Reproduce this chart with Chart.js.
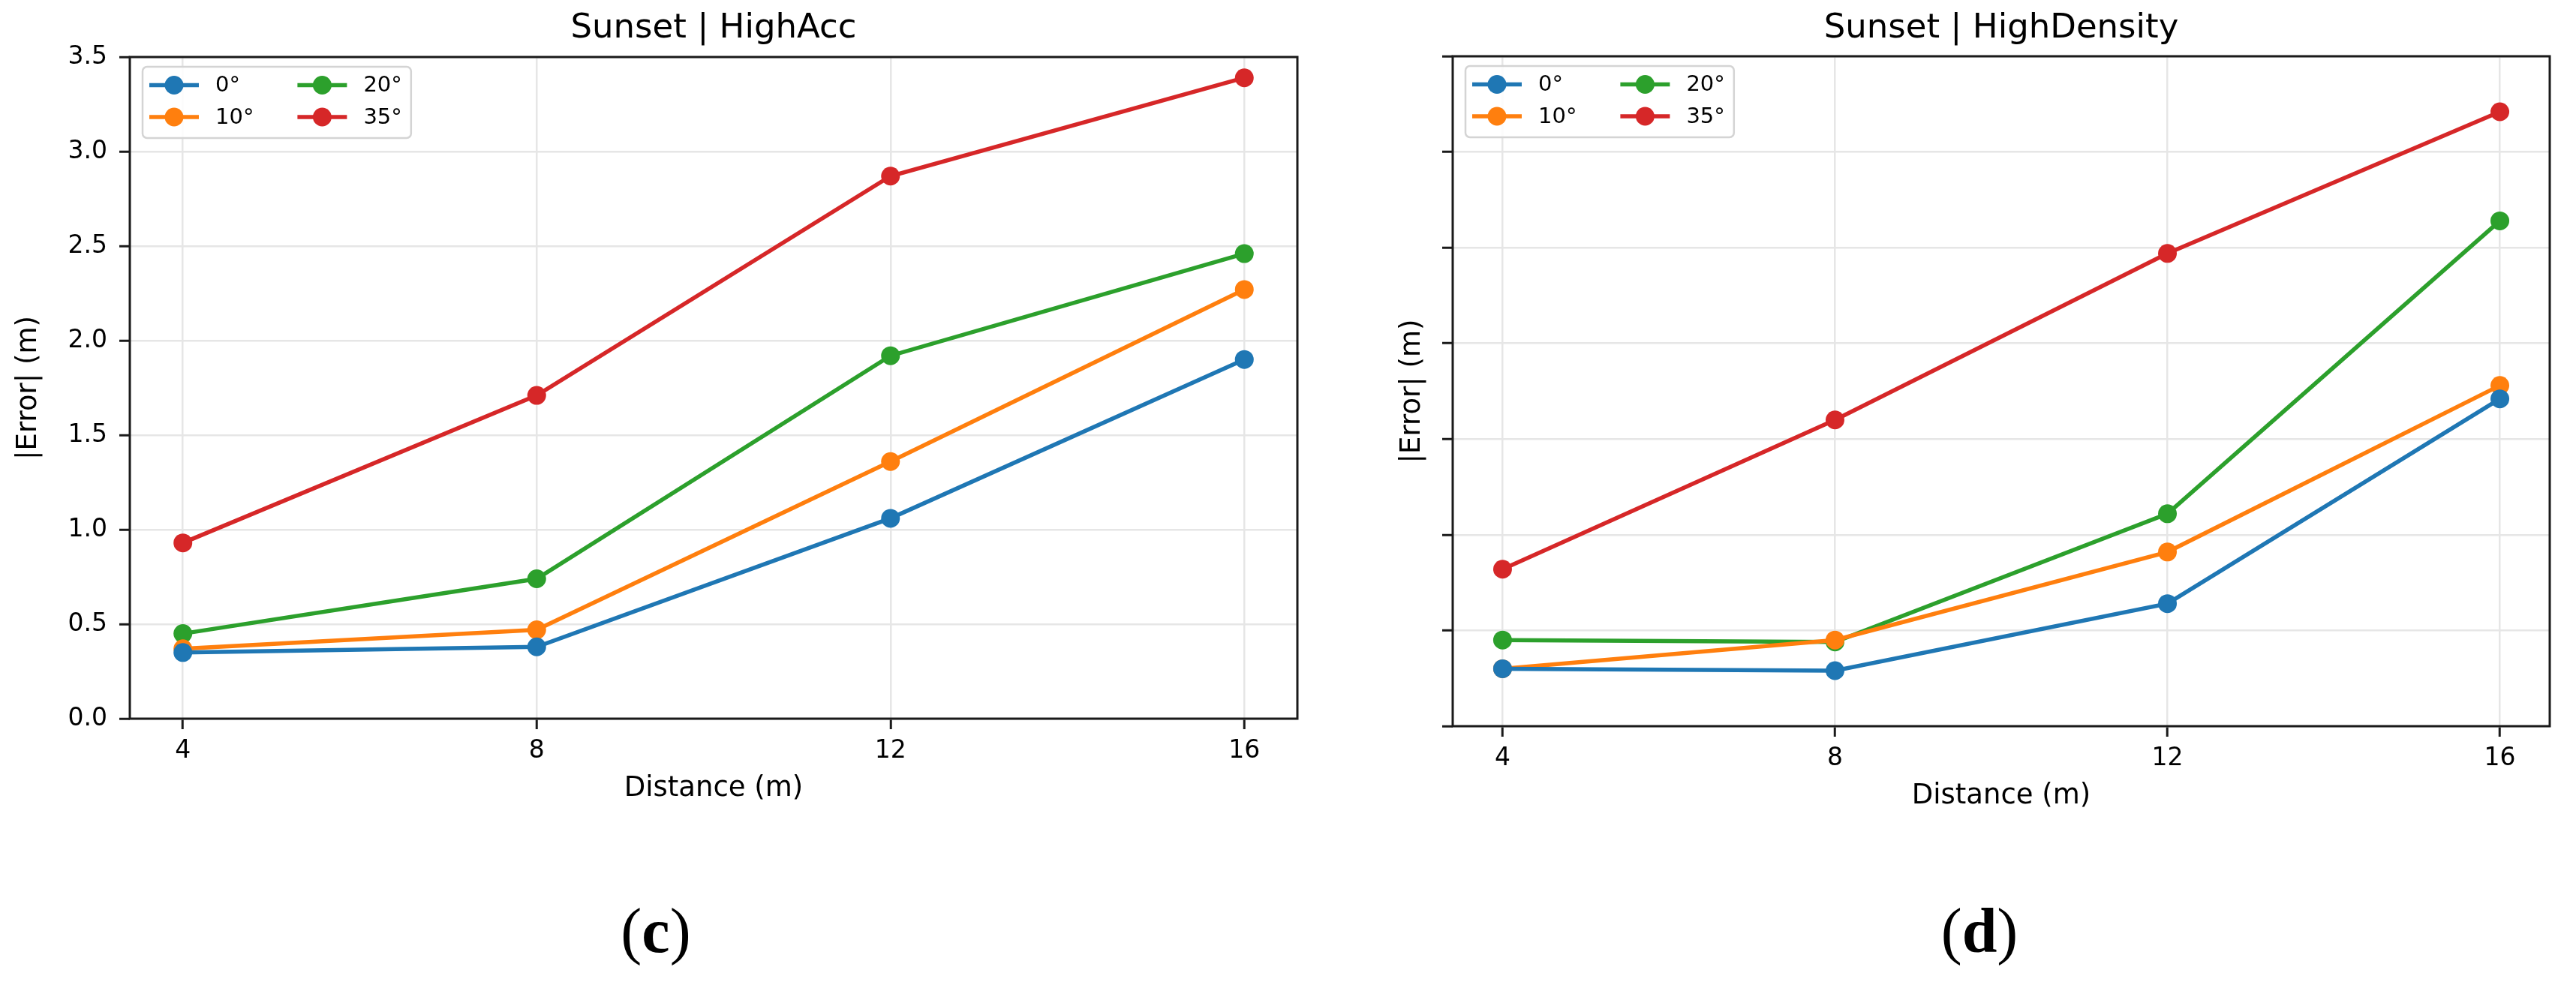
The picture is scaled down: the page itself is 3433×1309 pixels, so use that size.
<!DOCTYPE html>
<html>
<head>
<meta charset="utf-8">
<script src="https://cdn.jsdelivr.net/npm/chart.js@4.4.1/dist/chart.umd.min.js"></script>
<style>
  html, body { margin: 0; padding: 0; background: #fff; }
  body { position: relative; width: 3433px; height: 1309px; overflow: hidden; }
  canvas { position: absolute; top: 0; }
  #accChart { left: 0; }
  #denChart { left: 1760px; }
  .panel-tag {
    position: absolute; top: 1199px; width: 200px; text-align: center;
    font-family: 'Liberation Serif', 'DejaVu Serif', serif; font-size: 84px; line-height: 1; color: #000;
  }
</style>
</head>
<body>
<canvas id="accChart" width="1760" height="1078"></canvas>
<canvas id="denChart" width="1673" height="1088"></canvas>
<div class="panel-tag" style="left: 774px;">(<b>c</b>)</div>
<div class="panel-tag" style="left: 2538px;">(<b>d</b>)</div>
<script>
// Distance steps on the x axis
const distances = [4, 8, 12, 16];
const distanceTicks = ['4', '8', '12', '16'];
const angleLabels = ['0°', '10°', '20°', '35°'];
const yTicks = [0, 0.5, 1.0, 1.5, 2.0, 2.5, 3.0, 3.5];

// |Error| (m), Sunset | HighAcc
const accErr0 = [0.35, 0.38, 1.06, 1.90];
const accErr10 = [0.37, 0.47, 1.36, 2.27];
const accErr20 = [0.45, 0.74, 1.92, 2.46];
const accErr35 = [0.93, 1.71, 2.87, 3.39];

// |Error| (m), Sunset | HighDensity
const denErr0 = [0.30, 0.29, 0.64, 1.71];
const denErr10 = [0.30, 0.45, 0.91, 1.78];
const denErr20 = [0.45, 0.44, 1.11, 2.64];
const denErr35 = [0.82, 1.60, 2.47, 3.21];

const lineColors = ['#1f77b4', '#ff7f0e', '#2ca02c', '#d62728'];

Chart.defaults.font.family = "'DejaVu Sans', sans-serif";
Chart.defaults.color = '#000';

// Frame around the plot area plus a matplotlib-like two column legend
const frameLegend = {
    id: 'frameLegend',
    afterDraw(chart) {
        const { ctx, chartArea: a } = chart;
        ctx.save();
        ctx.strokeStyle = '#1a1a1a';
        ctx.lineWidth = 3;
        ctx.strokeRect(a.left, a.top, a.right - a.left, a.bottom - a.top);

        // legend box
        const sets = chart.data.datasets;
        ctx.font = "29px 'DejaVu Sans', sans-serif";
        const bx = a.left + 17, by = a.top + 13;
        const handle = 66, gap = 22, colSpace = 58, pad = 9;
        const col1Text = Math.max(ctx.measureText(sets[0].label).width, ctx.measureText(sets[1].label).width);
        const col2Text = Math.max(ctx.measureText(sets[2].label).width, ctx.measureText(sets[3].label).width);
        const col2x = bx + pad + handle + gap + col1Text + colSpace;
        const bw = col2x - bx + handle + gap + col2Text + 12;
        const bh = 95;
        ctx.beginPath();
        ctx.roundRect(bx, by, bw, bh, 6);
        ctx.fillStyle = 'rgba(255,255,255,0.85)';
        ctx.fill();
        ctx.strokeStyle = '#d4d4d4';
        ctx.lineWidth = 2.5;
        ctx.stroke();

        const rows = [by + 24.5, by + 67];
        const cols = [bx + pad, col2x];
        // column-major order like matplotlib ncol=2
        sets.forEach((ds, i) => {
            const x = cols[Math.floor(i / 2)];
            const y = rows[i % 2];
            ctx.strokeStyle = ds.borderColor;
            ctx.lineWidth = 5.5;
            ctx.beginPath();
            ctx.moveTo(x, y);
            ctx.lineTo(x + handle, y);
            ctx.stroke();
            ctx.fillStyle = ds.borderColor;
            ctx.beginPath();
            ctx.arc(x + handle / 2, y, 12.5, 0, Math.PI * 2);
            ctx.fill();
            ctx.fillStyle = '#000';
            ctx.textBaseline = 'middle';
            ctx.textAlign = 'left';
            ctx.fillText(ds.label, x + handle + gap, y + 1);
        });
        ctx.restore();
    }
};

function makeDatasets(seriesList) {
    return seriesList.map((vals, i) => ({
        label: angleLabels[i],
        data: distances.map((d, k) => ({ x: d, y: vals[k] })),
        borderColor: lineColors[i],
        backgroundColor: lineColors[i],
        pointBackgroundColor: lineColors[i],
        pointBorderWidth: 0,
        pointRadius: 12.5,
        borderWidth: 5.5,
        tension: 0
    }));
}

function buildChart(canvasId, title, seriesList, dims) {
    const canvas = document.getElementById(canvasId);
    return new Chart(canvas.getContext('2d'), {
        type: 'line',
        data: { datasets: makeDatasets(seriesList) },
        options: {
            responsive: false,
            animation: false,
            devicePixelRatio: 1,
            events: [],
            layout: { padding: { left: 0, top: 0, right: dims.padRight, bottom: 0 } },
            plugins: {
                legend: { display: false },
                tooltip: { enabled: false },
                title: {
                    display: true,
                    text: title,
                    fullSize: false,
                    font: { size: 45, weight: 'normal', lineHeight: 1 },
                    padding: { top: 16, bottom: dims.titleBottom }
                }
            },
            scales: {
                x: {
                    type: 'linear',
                    min: 3.4,
                    max: 16.6,
                    afterBuildTicks: (scale) => {
                        scale.ticks = distances.map(v => ({ value: v }));
                    },
                    afterFit: (scale) => { scale.height = 120; },
                    ticks: {
                        font: { size: 33 },
                        padding: 10,
                        maxRotation: 0,
                        callback: (v) => distanceTicks[distances.indexOf(v)]
                    },
                    grid: { color: '#e6e6e6', lineWidth: 2.5, tickColor: '#1a1a1a', tickLength: 14, tickWidth: 3 },
                    border: { display: false },
                    title: { display: true, text: 'Distance (m)', font: { size: 37 }, padding: { top: 0, bottom: 4 } }
                },
                y: {
                    min: 0,
                    max: 3.5,
                    afterBuildTicks: (scale) => {
                        scale.ticks = yTicks.map(v => ({ value: v }));
                    },
                    afterFit: (scale) => { scale.width = dims.yWidth; },
                    ticks: {
                        display: dims.showYLabels,
                        font: { size: 33 },
                        padding: 16,
                        callback: (v) => v.toFixed(1)
                    },
                    grid: { color: '#e6e6e6', lineWidth: 2.5, tickColor: '#1a1a1a', tickLength: 14, tickWidth: 3 },
                    border: { display: false },
                    title: { display: true, text: '|Error| (m)', font: { size: 37 }, padding: { top: dims.yTitlePad, bottom: 0 } }
                }
            }
        },
        plugins: [frameLegend]
    });
}

buildChart('accChart', 'Sunset | HighAcc', [accErr0, accErr10, accErr20, accErr35],
    { padRight: 31, titleBottom: 15, yWidth: 173, showYLabels: true, yTitlePad: 16 });
buildChart('denChart', 'Sunset | HighDensity', [denErr0, denErr10, denErr20, denErr35],
    { padRight: 35, titleBottom: 14, yWidth: 176, showYLabels: false, yTitlePad: 100 });
</script>
</body>
</html>
